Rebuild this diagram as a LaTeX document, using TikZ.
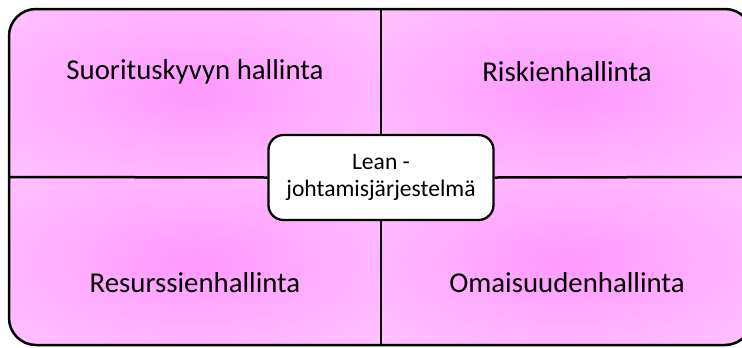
\documentclass[tikz,border=0pt]{standalone}
\usepackage{fontspec}
\setmainfont{Carlito}
\usepackage{xcolor}
\usepackage{tikz}
\usetikzlibrary{positioning, calc}

\definecolor{glowin}{HTML}{FF99FF}
\definecolor{glowout}{HTML}{FFD4FF}
\pgfdeclareradialshading{quadglow}{\pgfpoint{0bp}{0bp}}{color(0bp)=(glowin); color(50bp)=(glowout)}

\begin{document}
\begin{tikzpicture}[
        x=1bp, y=-1bp,
        frame/.style={draw, line width=2.5bp, rounded corners=27bp},
        divider/.style={line width=2.5bp},
        area/.style={font=\fontsize{28.8bp}{34bp}\selectfont, anchor=center},
        leanbox/.style={draw, line width=2.3bp, fill=white, rounded corners=15bp,
            minimum width=225bp, minimum height=85bp, align=center,
            font=\fontsize{23.6bp}{26.5bp}\selectfont}
    ]
        \useasboundingbox (0,0) rectangle (742,347);

        % Quadrant fills
        \begin{scope}
            \clip[rounded corners=27bp] (9,9) rectangle (752,345);
            \shade[shading=quadglow] (9,9) rectangle (381,177);
            \shade[shading=quadglow] (381,9) rectangle (752,177);
            \shade[shading=quadglow] (9,177) rectangle (381,345);
            \shade[shading=quadglow] (381,177) rectangle (752,345);
        \end{scope}

        % Frame
        \draw[frame] (9,9) rectangle (752,345);

        % Divider ends
        \coordinate (top) at (381,9);
        \coordinate (bottom) at (381,345);
        \coordinate (left) at (9,177);
        \coordinate (right) at (752,177);

        % Center
        \node[leanbox] (lean) at (381,177.5) {Lean -\\johtamisjärjestelmä};

        \draw[divider] (top) -- (lean.north);
        \draw[divider] (lean.south) -- (bottom);
        \draw[divider] (left) -- (lean.west);
        \draw[divider] (lean.east) -- (right);

        % Areas
        \node[area] (perf) at (195,72) {Suorituskyvyn hallinta};
        \node[area] (risk) at (567,72) {Riskienhallinta};
        \node[area] (res) at (195,283) {Resurssienhallinta};
        \node[area] (asset) at (567,283) {Omaisuudenhallinta};
    \end{tikzpicture}
\end{document}
